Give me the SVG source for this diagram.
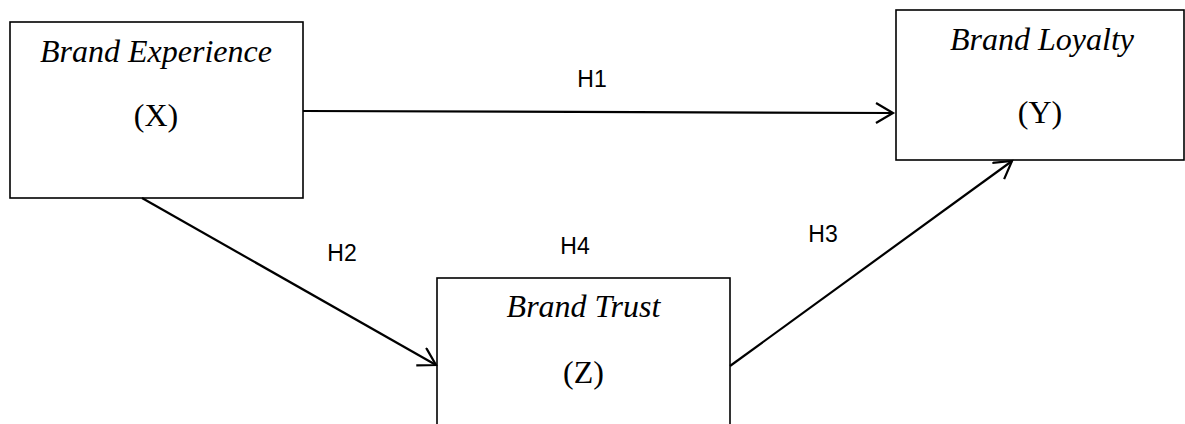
<svg xmlns="http://www.w3.org/2000/svg" width="1185" height="424" viewBox="0 0 1185 424">
<style>
.box{fill:#fff;stroke:#000;stroke-width:1.6}
.t{font-family:"Liberation Serif","Times New Roman",serif;font-size:32px;fill:#000;text-anchor:middle}
.i{font-style:italic}
.lbl{font-family:"Liberation Sans",Arial,sans-serif;font-size:23px;fill:#000;text-anchor:middle}
.c{fill:none;stroke:#000;stroke-width:2.2;marker-end:url(#ah)}
</style>
<defs>
<marker id="ah" markerWidth="24" markerHeight="24" refX="19" refY="11" orient="auto" markerUnits="userSpaceOnUse">
<path d="M2,1 L19,11 L2,21" fill="none" stroke="#000" stroke-width="2.2"/>
</marker>
</defs>
<g id="node-x">
<rect class="box" x="10" y="22" width="293" height="176"/>
<text class="t i" x="156" y="62">Brand Experience</text>
<text class="t" x="156" y="126">(X)</text>
</g>
<g id="node-y">
<rect class="box" x="896" y="10" width="288" height="150"/>
<text class="t i" x="1042" y="50">Brand Loyalty</text>
<text class="t" x="1040" y="123">(Y)</text>
</g>
<g id="node-z">
<rect class="box" x="437" y="278" width="293" height="160"/>
<text class="t i" x="583.5" y="317">Brand Trust</text>
<text class="t" x="583.5" y="383">(Z)</text>
</g>
<g id="connectors">
<line class="c" x1="303" y1="111" x2="893" y2="113"/>
<line class="c" x1="142" y1="198" x2="436" y2="365"/>
<line class="c" x1="730" y1="366" x2="1012" y2="161"/>
</g>
<g id="labels">
<text class="lbl" x="592" y="87">H1</text>
<text class="lbl" x="342" y="261">H2</text>
<text class="lbl" x="823" y="242">H3</text>
<text class="lbl" x="575" y="254">H4</text>
</g>
</svg>
